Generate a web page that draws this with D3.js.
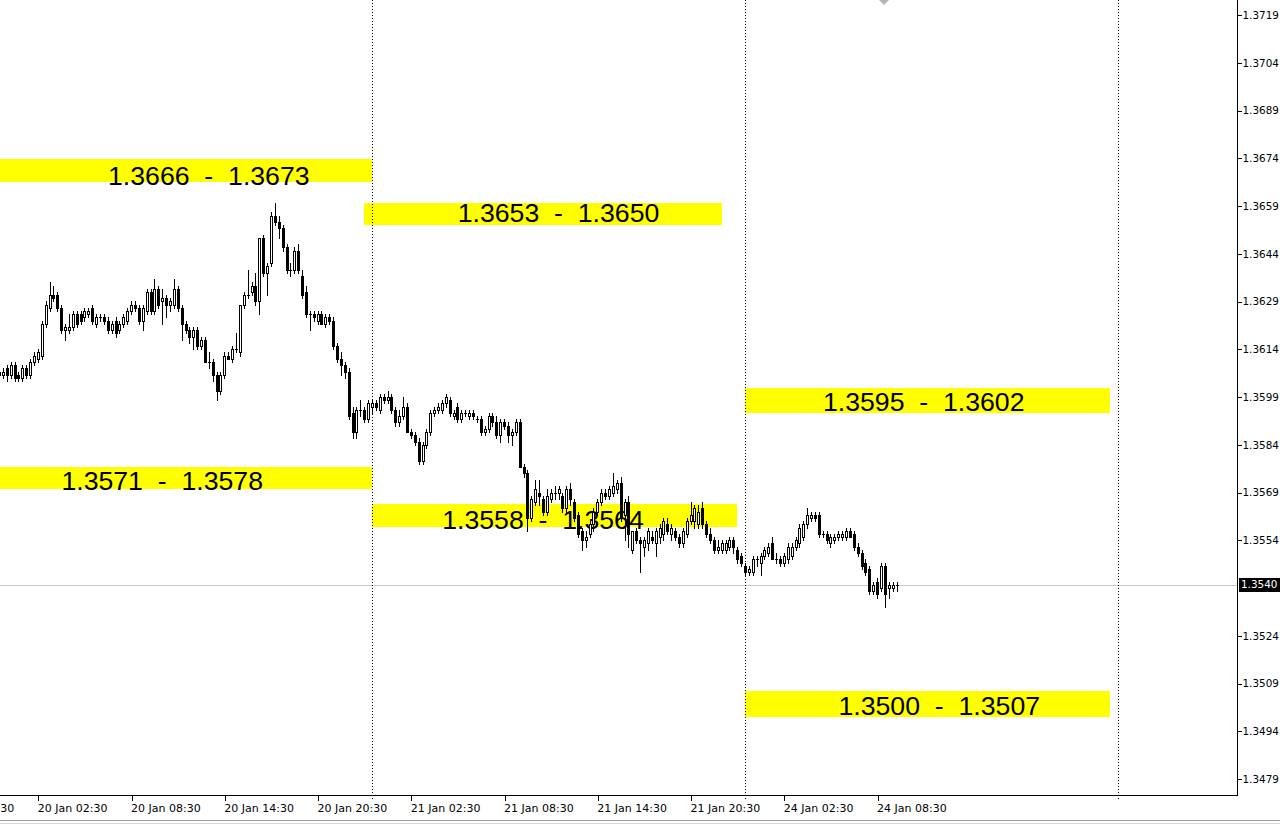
<!DOCTYPE html>
<html>
<head>
<meta charset="utf-8">
<title>GBPUSD M15</title>
<script src="https://cdn.jsdelivr.net/npm/d3@7"></script>
<style>
    body { margin: 0; background: #fff; }
    svg { display: block; }
    .zone-label { font-family: "Liberation Sans", Arial, sans-serif; font-size: 26.67px; fill: #000; white-space: pre; }
</style>
</head>
<body>
<div id="chart"></div>
<script>
// M15 candles, quoted in pips over 1.3500 : [open, high, low, close]
const day20Bars = [
    [107,108,105,106],[106,108,105,107],[108,109,104,106],[106,110,105,109],[109,110,104,105],
    [106,107,104,105],[105,109,104,108],[108,109,105,106],[106,111,105,110],[110,113,109,112],
    [111,114,110,113],[112,123,111,122],[122,129,121,128],[127,135,126,131],[131,134,129,130],
    [131,132,126,127],[127,128,119,120],[120,122,117,121],[120,125,119,121],[121,126,120,125],
    [125,126,121,122],[125,126,122,123],[124,127,123,126],[125,127,124,126],[127,128,122,123],
    [122,125,121,124],[124,125,123,124],[124,125,122,123],[123,124,119,120],[120,123,119,122],
    [123,124,118,119],[120,123,119,122],[122,125,121,124],[123,127,122,126],[126,129,125,128],
    [128,129,126,127],[127,128,122,123],[123,128,120,127],[126,133,125,132],[132,133,125,126],
    [126,136,125,133],[133,134,127,128],[129,133,122,130],[130,131,124,128],[128,130,126,129],
    [128,136,127,133],[133,134,126,127],[127,128,117,122],[122,123,119,120],[120,121,116,118],
    [118,121,114,120],[120,121,114,115],[115,118,114,117],[117,118,110,110],[110,113,108,110],
    [110,111,104,106],[106,107,98,101],[101,107,100,106],[106,113,105,112],[112,113,111,111],
    [111,115,110,114],[114,119,113,114],[113,128,112,128],[128,132,127,131],[131,139,130,131],
    [132,135,131,134],[134,138,128,129],[129,149,125,149],[149,150,137,138],[138,141,131,140],
    [141,157,140,156],[156,160,153,154],[154,156,149,152],[152,153,145,146],[146,147,138,139],
    [139,141,137,139],[139,146,138,145],[145,147,138,139],[137,139,130,131],[132,134,124,125],
    [125,126,120,125],[125,126,123,124],[123,126,122,125],[125,126,122,122],[122,125,121,124],
    [124,125,122,123],[123,124,114,115],[115,116,110,111],[111,113,106,109],[109,110,105,107],
    [107,108,92,93],[94,96,86,88],[88,96,86,95],[95,98,93,95],[95,96,91,92],
    [92,98,91,97]
];

const day21Bars = [
    [96,98,94,97],[97,98,95,96],[95,100,94,99],[99,100,97,98],[98,101,97,99],
    [99,100,94,95],[95,96,90,91],[91,95,90,93],[93,99,92,96],[96,97,88,88],
    [88,89,86,87],[87,88,84,85],[85,86,78,79],[79,85,78,84],[84,89,83,88],
    [88,95,87,94],[94,96,93,95],[95,97,94,96],[95,98,94,97],[97,100,96,99],
    [98,99,93,94],[93,95,92,94],[96,97,91,92],[92,95,91,94],[94,95,93,94],
    [93,95,92,94],[94,95,92,93],[92,93,91,92],[92,93,87,88],[88,90,87,89],
    [89,94,88,93],[93,94,90,91],[91,93,86,87],[87,92,85,91],[91,92,89,90],
    [90,91,85,87],[87,89,84,88],[88,92,87,91],[91,92,77,77],[77,78,74,75],
    [75,76,57,61],[61,68,60,67],[66,73,65,70],[69,73,65,68],[67,68,62,63],
    [63,70,62,68],[67,70,66,69],[69,71,67,69],[69,71,67,70],[68,69,63,64],
    [64,71,63,70],[70,72,65,67],[66,67,60,61],[62,63,55,56],[57,58,51,54],
    [54,57,52,55],[56,60,55,59],[59,64,57,63],[63,67,62,66],[66,70,65,69],
    [69,70,67,68],[68,71,67,70],[69,75,68,71],[70,73,69,72],[72,74,60,61],
    [62,67,54,66],[66,68,52,56],[51,57,50,57],[57,58,53,54],[54,55,44,53],
    [52,55,49,54],[53,58,51,57],[55,57,53,54],[53,58,49,57],[55,59,53,58],
    [56,61,54,60],[59,61,56,57],[56,59,54,58],[57,58,54,55],[55,56,52,53],
    [53,58,52,57],[56,61,55,60],[60,66,59,62],[60,65,58,64],[59,65,58,63],
    [64,66,58,59],[59,60,55,56],[56,58,53,54],[54,55,50,51],[51,54,50,52],
    [51,54,50,53],[51,54,50,53],[52,55,51,54],[54,55,50,52],[51,52,47,48],
    [49,50,46,47]
];

const day24Bars = [
    [46,47,43,44],[44,46,43,45],[44,49,43,48],[48,49,46,48],[47,50,43,49],
    [49,52,48,51],[50,53,49,52],[53,55,48,48],[48,50,47,48],[48,49,46,47],
    [47,50,46,49],[48,53,47,52],[49,53,48,52],[52,55,51,54],[53,59,52,58],
    [55,60,54,59],[59,64,58,62],[61,63,60,62],[62,63,60,61],[62,63,55,56],
    [56,57,55,56],[56,57,53,54],[53,56,52,55],[54,56,53,55],[55,57,54,56],
    [55,57,54,56],[55,58,54,57],[57,58,55,55],[56,57,51,52],[52,53,49,50],
    [50,51,45,46],[47,48,43,44],[45,46,37,38],[38,41,37,40],[41,42,36,37],
    [39,47,38,46],[46,47,33,37],[39,41,36,40],[39,41,38,40],[40,41,38,40]
];

// bar number of each session's first candle (bar 0 = 21 Jan 00:00)
const sessionStarts = [-96, 0, 96];

const priceTicks = [1.3719, 1.3704, 1.3689, 1.3674, 1.3659, 1.3644, 1.3629, 1.3614, 1.3599,
                    1.3584, 1.3569, 1.3554, 1.3524, 1.3509, 1.3494, 1.3479];
const timeTicks = [-110, -86, -62, -38, -14, 10, 34, 58, 82, 106, 130];
const timeLabels = ["19 Jan 20:30", "20 Jan 02:30", "20 Jan 08:30", "20 Jan 14:30", "20 Jan 20:30",
                    "21 Jan 02:30", "21 Jan 08:30", "21 Jan 14:30", "21 Jan 20:30", "24 Jan 02:30", "24 Jan 08:30"];
const daySeparators = [0, 96, 192];
const bidPrice = 1.3540;

// support / resistance zones drawn on the chart
const zoneLabels = ["1.3666  -  1.3673", "1.3653  -  1.3650", "1.3571  -  1.3578",
                    "1.3558  -  1.3564", "1.3595  -  1.3602", "1.3500  -  1.3507"];
const zoneHigh = [1.36738, 1.36599, 1.35770, 1.35654, 1.36018, 1.35066];
const zoneLow = [1.36665, 1.36530, 1.35701, 1.35582, 1.35940, 1.34984];
const zoneFrom = [-130, -2, -130, 0, 96, 96];
const zoneTo = [0, 90, 0, 94, 190, 190];
const zoneTextBar = [-42, 48, -54, 44, 142, 146];
const zoneTextPrice = [1.36684, 1.36568, 1.35726, 1.35604, 1.35974, 1.35019];

const PIP = 0.0001;
const PIP_BASE = 1.35;


class CandleChartBuilder {
    constructor(container, width, height) {
        this.container = container;
        this.width = width;
        this.height = height;
        this.plotRight = 1237;
        this.plotBottom = 795;
        this.x = d3.scaleLinear().domain([0, 96]).range([372, 745]);
        this.y = d3.scaleLinear().domain([1.3479, 1.3719]).range([779, 15]);
        this.bars = [];
        this.svg = null;
        this.setUpSVG();
        this.loadBars();
        this.draw();
    }

    setUpSVG() {
        this.svg = this.container
            .append("svg")
            .attr("width", this.width)
            .attr("height", this.height)
            .attr("viewBox", `0 0 ${this.width} ${this.height}`);
        this.svg.append("rect")
            .attr("width", this.width)
            .attr("height", this.height)
            .attr("fill", "#fff");
    }

    // turn the pip tables into one list of candles
    loadBars() {
        const sessions = [day20Bars, day21Bars, day24Bars];
        this.bars = sessions.flatMap((rows, s) => rows.map((q, i) => ({
            bar: sessionStarts[s] + i,
            open: PIP_BASE + q[0] * PIP,
            high: PIP_BASE + q[1] * PIP,
            low: PIP_BASE + q[2] * PIP,
            close: PIP_BASE + q[3] * PIP
        })));
        console.log("candles:", this.bars.length);
    }

    draw() {
        this.plot = this.svg.append("g")
            .attr("class", "plot")
            .attr("shape-rendering", "crispEdges");
        this.drawZones();
        this.drawSeparators();
        this.drawBidLine();
        this.drawCandles();
        this.drawAxes();
        this.drawFrame();
    }

    drawZones() {
        const zones = zoneLabels.map((label, i) => ({
            label, i,
            x0: Math.max(0, Math.round(this.x(zoneFrom[i]))),
            x1: Math.round(this.x(zoneTo[i])),
            y0: Math.round(this.y(zoneHigh[i])),
            y1: Math.round(this.y(zoneLow[i]))
        }));

        this.plot.append("g")
            .attr("class", "zones")
            .selectAll("rect")
            .data(zones)
            .enter().append("rect")
            .attr("x", d => d.x0)
            .attr("y", d => d.y0)
            .attr("width", d => d.x1 - d.x0)
            .attr("height", d => d.y1 - d.y0)
            .attr("fill", "#ffff00");

        this.svg.append("g")
            .attr("class", "zone-texts")
            .selectAll("text")
            .data(zones)
            .enter().append("text")
            .attr("class", "zone-label")
            .attr("x", d => this.x(zoneTextBar[d.i]))
            .attr("y", d => this.y(zoneTextPrice[d.i]))
            .attr("text-anchor", "middle")
            .attr("dominant-baseline", "central")
            .text(d => d.label);
    }

    // dotted day separators
    drawSeparators() {
        this.svg.append("g")
            .attr("class", "separators")
            .selectAll("line")
            .data(daySeparators)
            .enter().append("line")
            .attr("x1", d => Math.round(this.x(d)) + 0.5)
            .attr("x2", d => Math.round(this.x(d)) + 0.5)
            .attr("y1", 0)
            .attr("y2", this.plotBottom + 5)
            .attr("stroke", "#000")
            .attr("stroke-dasharray", "1,2");
    }

    drawBidLine() {
        const yb = Math.round(this.y(bidPrice)) + 0.5;
        this.plot.append("line")
            .attr("x1", 0)
            .attr("x2", this.plotRight)
            .attr("y1", yb)
            .attr("y2", yb)
            .attr("stroke", "#c8c8c8");
    }

    drawCandles() {
        const px = d => Math.round(this.x(d.bar));
        const py = v => Math.round(this.y(v));
        const g = this.svg.append("g")
            .attr("class", "candles")
            .attr("shape-rendering", "crispEdges");

        // wicks first, bodies on top
        g.selectAll("line")
            .data(this.bars)
            .enter().append("line")
            .attr("x1", d => px(d) + 0.5)
            .attr("x2", d => px(d) + 0.5)
            .attr("y1", d => py(d.high))
            .attr("y2", d => py(d.low) + 1)
            .attr("stroke", "#000");

        g.selectAll("rect")
            .data(this.bars)
            .enter().append("rect")
            .each(function (d) {
                const cx = px(d);
                const top = py(Math.max(d.open, d.close));
                const bot = py(Math.min(d.open, d.close));
                const body = d3.select(this);
                if (d.close > d.open && bot - top >= 2) {
                    body.attr("x", cx - 0.5).attr("y", top + 0.5)
                        .attr("width", 2).attr("height", bot - top)
                        .attr("fill", "#fff").attr("stroke", "#000");
                } else {
                    body.attr("x", cx - 1).attr("y", top)
                        .attr("width", 3).attr("height", bot - top + 1)
                        .attr("fill", "#000");
                }
            });
    }

    drawAxes() {
        const priceAxis = d3.axisRight(this.y)
            .tickValues(priceTicks)
            .tickFormat(d3.format(".4f"))
            .tickSize(4)
            .tickSizeOuter(0)
            .tickPadding(1);

        const pa = this.svg.append("g")
            .attr("class", "axis price")
            .attr("transform", `translate(${this.plotRight + 0.5},0)`)
            .call(priceAxis);

        const timeAxis = d3.axisBottom(this.x)
            .tickValues(timeTicks)
            .tickFormat((d, i) => timeLabels[i])
            .tickSize(5)
            .tickSizeOuter(0)
            .tickPadding(4);

        const ta = this.svg.append("g")
            .attr("class", "axis time")
            .attr("transform", `translate(0.5,${this.plotBottom + 0.5})`)
            .call(timeAxis);
        ta.selectAll(".tick text")
            .attr("text-anchor", "start")
            .attr("x", -1);

        [pa, ta].forEach(a => {
            a.select(".domain").remove();
            a.attr("font-family", "'DejaVu Sans', sans-serif")
                .attr("shape-rendering", "crispEdges");
            a.selectAll(".tick text").attr("fill", "#000");
        });
        ta.attr("font-size", 11);
        pa.attr("font-size", 10.4);

        // current price tag
        const yb = Math.round(this.y(bidPrice));
        const tag = this.svg.append("g").attr("class", "bid-tag");
        tag.append("rect")
            .attr("x", this.plotRight + 2)
            .attr("y", yb - 7)
            .attr("width", this.width - this.plotRight - 2)
            .attr("height", 14)
            .attr("fill", "#000");
        tag.append("text")
            .attr("x", this.plotRight + 4)
            .attr("y", yb)
            .attr("dy", "0.32em")
            .attr("font-family", "'DejaVu Sans', sans-serif")
            .attr("font-size", 10.4)
            .attr("fill", "#fff")
            .text(d3.format(".4f")(bidPrice));
    }

    // chart border, window edge and the chart-shift marker
    drawFrame() {
        const f = this.svg.append("g")
            .attr("class", "frame")
            .attr("shape-rendering", "crispEdges");
        f.append("line")
            .attr("x1", this.plotRight + 0.5).attr("x2", this.plotRight + 0.5)
            .attr("y1", 0).attr("y2", this.plotBottom + 1)
            .attr("stroke", "#000");
        f.append("line")
            .attr("x1", 0).attr("x2", this.plotRight + 1)
            .attr("y1", this.plotBottom + 0.5).attr("y2", this.plotBottom + 0.5)
            .attr("stroke", "#000");
        f.append("line")
            .attr("x1", 0).attr("x2", this.width)
            .attr("y1", 820.5).attr("y2", 820.5)
            .attr("stroke", "#9a9a9a");
        f.append("line")
            .attr("x1", 0).attr("x2", this.width)
            .attr("y1", 823.5).attr("y2", 823.5)
            .attr("stroke", "#d8d8d8");

        this.svg.append("path")
            .attr("d", "M879,0L889,0L884,5Z")
            .attr("fill", "#b4b4b4");
    }

} // END CLASS


const chart = new CandleChartBuilder(d3.select("#chart"), 1280, 825);
</script>
</body>
</html>
